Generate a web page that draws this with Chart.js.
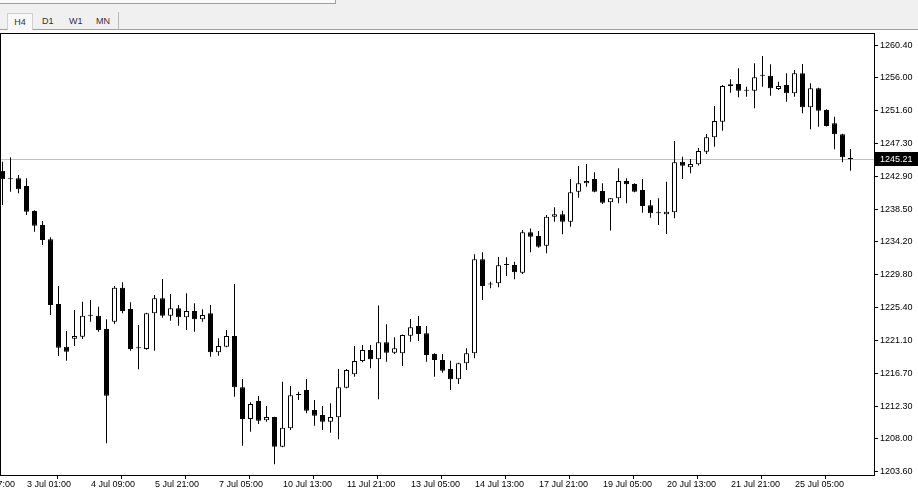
<!DOCTYPE html>
<html>
<head>
<meta charset="utf-8">
<title>H4</title>
<script src="https://cdn.jsdelivr.net/npm/chart.js@4.4.1/dist/chart.umd.min.js"></script>
<style>
  html, body { margin: 0; padding: 0; background: #fff; }
  #wrap { position: relative; width: 918px; height: 488px; overflow: hidden; font-family: "Liberation Sans", Arial, sans-serif; }
  #toolbar { position: absolute; left: 0; top: 0; width: 918px; height: 30px; background: #f0f0f0; border-bottom: 1px solid #a0a0a0; box-sizing: border-box; z-index: 2; }
  #topbox { position: absolute; left: 0; top: 0; width: 336px; height: 4px; background: #fafafa; border-right: 1px solid #a0a0a0; border-bottom: 1px solid #a0a0a0; box-sizing: border-box; }
  .tab { position: absolute; top: 13px; height: 17px; line-height: 17px; font-size: 9px; color: #333; }
  .tab.active { background: #f8f8f8; border: 1px solid #cfcfcf; border-bottom: none; box-sizing: border-box; text-align: center; }
  #sep { position: absolute; left: 118px; top: 12px; width: 1px; height: 18px; background: #b8b8b8; }
  canvas { position: absolute; left: 0; top: 0; }
</style>
</head>
<body>
<div id="wrap">
  <div id="toolbar">
    <div id="topbox"></div>
    <div class="tab active" style="left:7px;width:26px;">H4</div>
    <div class="tab" style="left:42px;">D1</div>
    <div class="tab" style="left:69px;">W1</div>
    <div class="tab" style="left:96px;">MN</div>
    <div id="sep"></div>
  </div>
  <canvas id="chart" width="918" height="488"></canvas>
</div>
<script>
// ── Kerzendaten (H4), Index 0..106 ──
const opens = [
  1243.67, 1242.52, 1242.65, 1241.63, 1238.30, 1236.44, 1234.53, 1225.92, 1220.24, 1221.30,
  1221.57, 1224.36, 1224.36, 1222.59, 1223.57, 1228.09, 1225.26, 1220.02, 1219.93, 1224.68,
  1226.68, 1224.36, 1225.35, 1224.15, 1224.99, 1223.88, 1224.68, 1219.49, 1220.24, 1221.66,
  1214.83, 1210.61, 1213.01, 1210.44, 1210.88, 1206.93, 1209.38, 1213.81, 1214.47, 1211.81,
  1211.14, 1210.26, 1210.84, 1214.78, 1216.56, 1218.33, 1219.80, 1218.56, 1220.82, 1219.44,
  1219.36, 1221.70, 1222.99, 1222.02, 1219.26, 1218.47, 1217.27, 1215.90, 1218.03, 1219.36,
  1231.87, 1228.52, 1228.68, 1231.12, 1231.12, 1230.09, 1235.46, 1234.97, 1233.68, 1237.55,
  1237.86, 1236.88, 1240.87, 1241.99, 1242.56, 1240.97, 1239.46, 1239.99, 1242.29, 1241.90,
  1241.10, 1239.06, 1238.00, 1237.86, 1238.13, 1244.87, 1244.12, 1244.52, 1246.20, 1248.11,
  1250.19, 1254.94, 1255.21, 1254.32, 1254.32, 1256.31, 1256.31, 1254.54, 1255.07, 1253.97,
  1256.63, 1252.11, 1254.64, 1251.75, 1249.98, 1248.51, 1245.21
];
const highs = [
  1244.87, 1245.45, 1243.09, 1242.65, 1238.40, 1236.97, 1234.80, 1228.32, 1222.33, 1225.12,
  1226.23, 1226.45, 1225.56, 1223.88, 1228.32, 1228.81, 1226.15, 1223.13, 1224.75, 1227.12,
  1229.25, 1227.25, 1225.79, 1227.35, 1226.02, 1225.22, 1225.79, 1221.36, 1222.46, 1228.58,
  1215.94, 1212.84, 1213.67, 1212.34, 1210.92, 1215.58, 1215.01, 1214.25, 1215.94, 1213.14,
  1212.34, 1212.70, 1217.27, 1217.27, 1220.33, 1220.46, 1220.46, 1225.72, 1223.22, 1221.49,
  1221.85, 1223.92, 1224.32, 1222.99, 1219.36, 1219.26, 1218.37, 1218.11, 1220.02, 1232.54,
  1232.80, 1228.89, 1232.18, 1232.14, 1231.55, 1235.77, 1235.99, 1235.64, 1237.77, 1238.79,
  1238.34, 1242.56, 1244.29, 1244.56, 1243.45, 1241.99, 1240.05, 1243.99, 1242.65, 1241.99,
  1242.56, 1239.77, 1239.99, 1242.20, 1247.62, 1245.53, 1245.22, 1246.69, 1248.55, 1252.28,
  1255.07, 1255.83, 1257.30, 1254.85, 1257.96, 1258.94, 1257.83, 1255.51, 1256.63, 1257.07,
  1257.87, 1255.30, 1254.70, 1251.84, 1250.86, 1248.60, 1246.56
];
const lows = [
  1239.10, 1240.87, 1240.66, 1237.77, 1235.55, 1233.78, 1224.46, 1219.00, 1218.37, 1220.33,
  1221.26, 1223.57, 1222.23, 1207.38, 1223.26, 1224.68, 1219.70, 1217.23, 1219.85, 1219.70,
  1224.10, 1223.70, 1223.03, 1222.46, 1222.23, 1223.57, 1218.91, 1219.04, 1220.16, 1213.58,
  1207.06, 1208.92, 1209.95, 1210.26, 1204.58, 1206.85, 1209.15, 1213.14, 1211.37, 1209.72,
  1209.15, 1208.79, 1207.91, 1214.70, 1216.25, 1218.16, 1217.36, 1213.24, 1218.24, 1219.26,
  1217.67, 1220.90, 1220.99, 1218.24, 1216.25, 1216.78, 1214.47, 1215.27, 1217.14, 1218.69,
  1226.45, 1228.01, 1228.15, 1229.65, 1229.21, 1229.91, 1232.80, 1233.42, 1232.67, 1236.88,
  1235.20, 1236.21, 1240.07, 1241.54, 1240.79, 1239.23, 1235.71, 1239.33, 1239.33, 1240.80,
  1238.08, 1237.41, 1236.44, 1235.24, 1237.33, 1242.56, 1243.32, 1244.36, 1245.89, 1246.86,
  1248.99, 1254.05, 1253.44, 1253.52, 1251.97, 1254.85, 1253.65, 1254.41, 1252.85, 1253.52,
  1251.31, 1249.18, 1249.52, 1249.55, 1246.52, 1244.78, 1243.67
];
const closes = [
  1242.52, 1242.52, 1241.19, 1238.21, 1236.35, 1234.44, 1225.79, 1220.10, 1219.57, 1221.66,
  1224.36, 1224.36, 1222.46, 1213.71, 1228.09, 1224.99, 1219.93, 1220.02, 1224.68, 1226.68,
  1224.36, 1225.35, 1224.15, 1224.99, 1223.88, 1224.46, 1219.49, 1220.33, 1221.66, 1214.83,
  1210.61, 1212.61, 1210.39, 1210.88, 1206.93, 1209.46, 1213.77, 1213.81, 1211.72, 1211.05,
  1210.26, 1210.88, 1214.83, 1217.14, 1218.33, 1219.80, 1218.56, 1220.82, 1219.44, 1220.02,
  1221.79, 1222.82, 1221.93, 1219.13, 1218.47, 1217.04, 1215.90, 1218.03, 1219.36, 1231.87,
  1228.32, 1228.52, 1231.07, 1231.12, 1230.14, 1235.46, 1234.88, 1233.55, 1237.55, 1237.86,
  1236.88, 1240.79, 1241.99, 1242.29, 1240.87, 1239.41, 1239.99, 1242.29, 1241.86, 1240.87,
  1238.97, 1238.00, 1238.00, 1238.21, 1244.78, 1244.33, 1244.56, 1246.29, 1248.11, 1250.28,
  1254.94, 1255.17, 1254.32, 1254.32, 1256.10, 1256.31, 1254.64, 1254.94, 1253.97, 1256.63,
  1252.11, 1254.64, 1251.65, 1249.62, 1248.51, 1245.45, 1245.21
];
const lastPrice = 1245.21;

// Achsenbeschriftungen
const xTickLabels = ['29 Jun 17:00', '3 Jul 01:00', '4 Jul 09:00', '5 Jul 21:00', '7 Jul 05:00',
  '10 Jul 13:00', '11 Jul 21:00', '13 Jul 05:00', '14 Jul 13:00', '17 Jul 21:00',
  '19 Jul 05:00', '20 Jul 13:00', '21 Jul 21:00', '25 Jul 05:00'];
const xTickBars = [-5, 3, 11, 19, 27, 35, 43, 51, 59, 67, 75, 83, 91, 99];
const yTickLabels = ['1260.40', '1256.00', '1251.60', '1247.30', '1242.90', '1238.50', '1234.20',
  '1229.80', '1225.40', '1221.10', '1216.70', '1212.30', '1208.00', '1203.60'];

const FONT = { family: '"Liberation Sans", Arial, sans-serif', size: 9 };
const yTop = parseFloat(yTickLabels[0]);
const yBot = parseFloat(yTickLabels[yTickLabels.length - 1]);
const yStep = (yTop - yBot) / (yTickLabels.length - 1);
const yTickVals = yTickLabels.map((_, i) => yTop - i * yStep);

// Sichtbarer Bereich
const X_MIN = -0.3125, X_SPAN = 109.25;
const Y_MIN = 1203.16, Y_MAX = 1262.0;

const bodies = opens.map((o, i) => ({ x: i, y: [o, closes[i]] }));
const wicks  = lows.map((l, i) => ({ x: i, y: [l, highs[i]] }));

// ── Rahmen, Preislinie, Preisschild ──
const mtPlugin = {
  id: 'mt',
  beforeDatasetsDraw(chart) {
    const { ctx, chartArea: a, scales: { y } } = chart;
    const py = Math.round(y.getPixelForValue(lastPrice)) + 0.5;
    ctx.save();
    ctx.strokeStyle = '#c0c0c0';
    ctx.lineWidth = 1;
    ctx.beginPath();
    ctx.moveTo(a.left, py);
    ctx.lineTo(a.right, py);
    ctx.stroke();
    ctx.restore();
  },
  afterDraw(chart) {
    const { ctx, chartArea: a, scales: { y } } = chart;
    ctx.save();
    ctx.strokeStyle = '#000';
    ctx.lineWidth = 1;
    ctx.strokeRect(a.left + 0.5, a.top + 0.5, a.right - a.left, a.bottom - a.top);
    const py = Math.round(y.getPixelForValue(lastPrice));
    ctx.fillStyle = '#000';
    ctx.fillRect(a.right + 1, py - 7, 918 - a.right - 1, 14);
    ctx.fillStyle = '#fff';
    ctx.font = FONT.size + 'px ' + FONT.family;
    ctx.textBaseline = 'middle';
    ctx.textAlign = 'left';
    ctx.fillText(lastPrice.toFixed(2), a.right + 6, py + 0.5);
    ctx.restore();
  }
};

new Chart(document.getElementById('chart'), {
  type: 'bar',
  data: {
    datasets: [
      {
        label: 'body',
        data: bodies,
        order: 0,
        grouped: false,
        maxBarThickness: 5,
        minBarLength: 1,
        inflateAmount: 0,
        borderSkipped: false,
        borderWidth: 1,
        borderColor: '#000',
        backgroundColor: ctx => closes[ctx.dataIndex] > opens[ctx.dataIndex] ? '#fff' : '#000'
      },
      {
        label: 'wick',
        data: wicks,
        order: 1,
        grouped: false,
        maxBarThickness: 1,
        inflateAmount: 0,
        borderWidth: 0,
        backgroundColor: '#000'
      }
    ]
  },
  options: {
    responsive: false,
    animation: false,
    events: [],
    layout: { autoPadding: false, padding: { top: 33, left: 0, right: 0, bottom: 0 } },
    plugins: { legend: { display: false }, tooltip: { enabled: false } },
    scales: {
      x: {
        type: 'linear',
        min: X_MIN,
        max: X_MIN + X_SPAN,
        offset: false,
        afterBuildTicks: s => { s.ticks = xTickBars.map(b => ({ value: b - 0.1875 })); },
        // erste Beschriftung liegt links außerhalb – kein Platz dafür reservieren
        afterFit: s => { s.height = 13; s.paddingLeft = 0; s.paddingRight = 0; },
        grid: { drawOnChartArea: false, drawTicks: true, tickLength: 4, color: '#000', tickColor: '#000' },
        border: { display: false },
        ticks: {
          autoSkip: false, maxRotation: 0, align: 'start', labelOffset: 2, padding: 0,
          color: '#000', font: FONT,
          callback: (v, i) => xTickLabels[i]
        }
      },
      y: {
        position: 'right',
        min: Y_MIN,
        max: Y_MAX,
        afterBuildTicks: s => { s.ticks = yTickVals.map(v => ({ value: v })); },
        afterFit: s => { s.width = 44; s.paddingTop = 0; s.paddingBottom = 0; },
        grid: { drawOnChartArea: false, drawTicks: true, tickLength: 4, color: '#000', tickColor: '#000' },
        border: { display: false },
        ticks: {
          autoSkip: false, padding: 2, color: '#000', font: FONT,
          callback: (v, i) => yTickLabels[i]
        }
      }
    }
  },
  plugins: [mtPlugin]
});
</script>
</body>
</html>
